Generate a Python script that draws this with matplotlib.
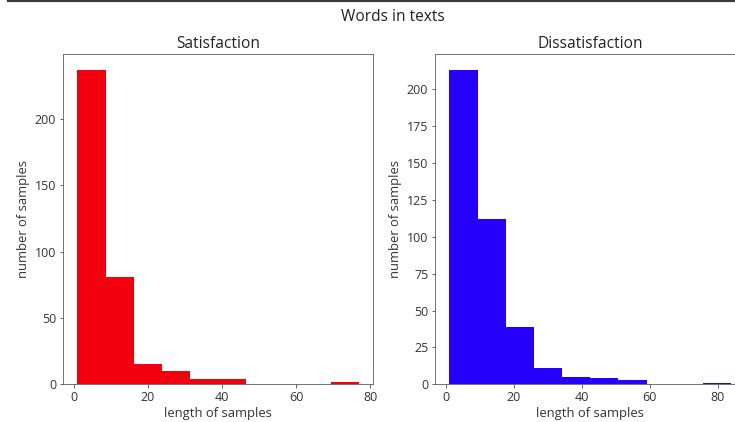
import numpy as np
import matplotlib
matplotlib.use('Agg')
import matplotlib.pyplot as plt
from matplotlib.lines import Line2D

#dados (10 bins cada)
sat_counts = [237, 81, 15, 10, 4, 4, 0, 0, 0, 2]
sat_range = (1, 77)
dis_counts = [213, 112, 39, 11, 5, 4, 3, 0, 0, 1]
dis_range = (1, 84)

titles = ['Satisfaction', 'Dissatisfaction']
colors = ['#f3000f', '#2500fb']
suptitle = 'Words in texts'

plt.rcParams['font.family'] = ['Open Sans', 'DejaVu Sans']

fig = plt.figure(figsize=(735/72, 422/72), dpi=72)

ax1 = fig.add_axes([0.0861, 0.0893, 0.4218, 0.782])
ax2 = fig.add_axes([0.5922, 0.0893, 0.4218, 0.782])

for ax, counts, rng, title, color in zip([ax1, ax2], [sat_counts, dis_counts],
                                         [sat_range, dis_range], titles, colors):
    edges = np.linspace(rng[0], rng[1], len(counts) + 1)
    ax.hist(edges[:-1], bins=edges, weights=counts, color=color)
    ax.set_title(title, fontsize=15.5, color='#222222', pad=6)
    ax.set_xlabel('length of samples', fontsize=13, color='#333333', labelpad=3)
    ax.set_ylabel('number of samples', fontsize=13, color='#333333', labelpad=5)
    ax.set_xticks(range(0, 81, 20))
    ax.tick_params(labelsize=12.5, colors='#444444', labelcolor='#333333')
    for s in ax.spines.values():
        s.set_color('#555555')

# a figura original foi cortada na direita, o titulo fica deslocado
fig.text(393/735, 1 - 17/422, suptitle, ha='center', va='center', fontsize=15.5, color='#222222')

#linha escura no topo (borda da captura)
fig.add_artist(Line2D([8/735, 1], [1 - 1/422, 1 - 1/422], color='#3a3a3a', lw=2.2))

fig.savefig('out.png', dpi=72)
